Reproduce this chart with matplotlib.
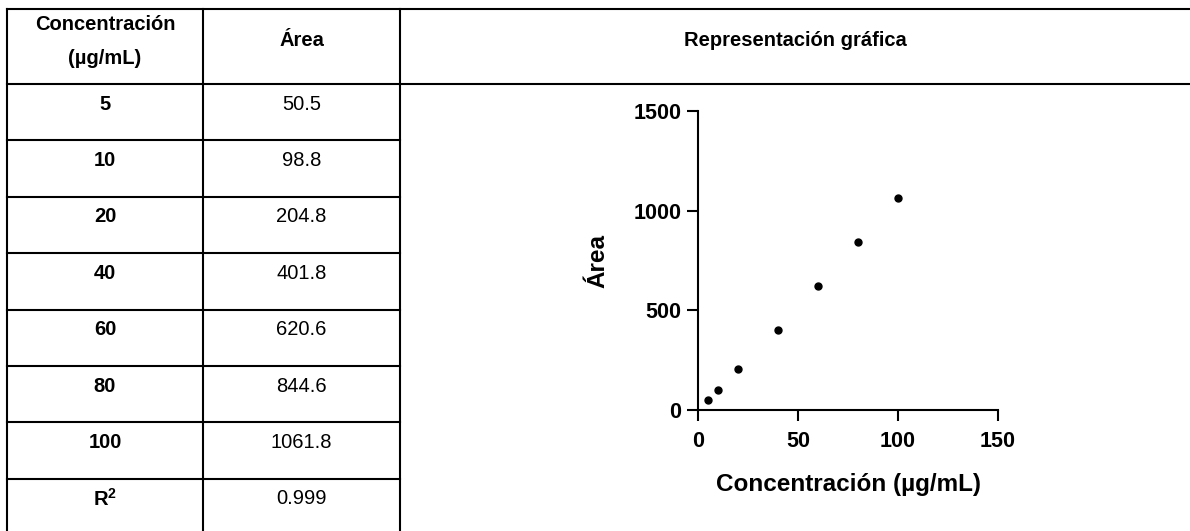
import matplotlib
matplotlib.use("Agg")
import matplotlib.pyplot as plt

# Calibration data
concentrations = [5, 10, 20, 40, 60, 80, 100]
areas = [50.5, 98.8, 204.8, 401.8, 620.6, 844.6, 1061.8]
r_squared = 0.999

header_conc = ["Concentración", "(µg/mL)"]
header_area = "Área"
header_plot = "Representación gráfica"
r2_label = r"$\mathbf{R}^{\mathbf{2}}$"

x_ticks = [0, 50, 100, 150]
y_ticks = [0, 500, 1000, 1500]
x_label = "Concentración (µg/mL)"
y_label = "Área"

plt.rcParams["font.family"] = ["Liberation Sans", "DejaVu Sans"]
plt.rcParams["mathtext.fontset"] = "custom"
plt.rcParams["mathtext.rm"] = "Liberation Sans"
plt.rcParams["mathtext.bf"] = "Liberation Sans:bold"

W, H = 1190, 531
fig = plt.figure(figsize=(W / 100, H / 100), dpi=100)

# ---- table drawn in pixel coordinates ----
tab = fig.add_axes([0, 0, 1, 1])
tab.set_xlim(0, W)
tab.set_ylim(H, 0)
tab.axis("off")

lw = 1.5
left, c1, c2, right = 7, 203, 400, 1195
top, head_bot = 9, 84
row_h = 56.4
n_rows = len(concentrations) + 1
row_lines = [head_bot + i * row_h for i in range(n_rows + 1)]

line_kw = dict(color="black", lw=lw, solid_capstyle="projecting")
tab.plot([left, right], [top, top], **line_kw)
tab.plot([left, right], [head_bot, head_bot], **line_kw)
for y in row_lines[1:]:
    tab.plot([left, c2], [y, y], **line_kw)
for x in (left, c1, c2):
    tab.plot([x, x], [top, row_lines[-1]], **line_kw)

fs_tab = 14.5
tab.text((left + c1) / 2, 25, header_conc[0], ha="center", va="center",
         fontsize=fs_tab, fontweight="bold")
tab.text((left + c1) / 2, 58, header_conc[1], ha="center", va="center",
         fontsize=fs_tab, fontweight="bold")
tab.text((c1 + c2) / 2, 40, header_area, ha="center", va="center",
         fontsize=fs_tab, fontweight="bold")
tab.text(795, 40, header_plot, ha="center", va="center",
         fontsize=fs_tab, fontweight="bold")

first_col = [str(c) for c in concentrations] + [r2_label]
second_col = [f"{a:.1f}" for a in areas] + [f"{r_squared:.3f}"]
for i, (a, b) in enumerate(zip(first_col, second_col)):
    yc = row_lines[i] + 20
    tab.text((left + c1) / 2, yc, a, ha="center", va="center",
             fontsize=fs_tab, fontweight="bold")
    tab.text((c1 + c2) / 2, yc, b, ha="center", va="center", fontsize=fs_tab)

# ---- calibration scatter plot ----
x0, x1 = 698, 998
y0, y1 = 410, 111
ax = fig.add_axes([x0 / W, (H - y0) / H, (x1 - x0) / W, (y0 - y1) / H])
ax.set_facecolor("none")
ax.plot(concentrations, areas, "o", color="black", ms=5, clip_on=False)
ax.set_xlim(0, 150)
ax.set_ylim(0, 1500)
ax.set_xticks(x_ticks)
ax.set_yticks(y_ticks)
for s in ("top", "right"):
    ax.spines[s].set_visible(False)
for s in ("left", "bottom"):
    ax.spines[s].set_linewidth(1.5)
ax.tick_params(direction="out", length=8, width=1.5, labelsize=15.5, pad=4)
ax.tick_params(axis="x", pad=7)
for lab in ax.get_xticklabels() + ax.get_yticklabels():
    lab.set_fontweight("bold")

ax.set_xlabel(x_label, fontsize=17.5, fontweight="bold")
ax.set_ylabel(y_label, fontsize=17.5, fontweight="bold")
ax.xaxis.set_label_coords(0.5, (y0 - 484) / (y0 - y1))
ax.xaxis.label.set_va("center")
ax.yaxis.set_label_coords((598 - x0) / (x1 - x0), 0.5)
ax.yaxis.label.set_va("center")

fig.savefig("out.png", dpi=100)
